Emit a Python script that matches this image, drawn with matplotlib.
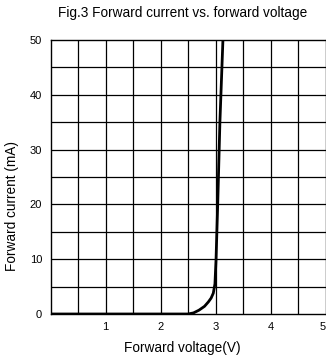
import matplotlib
matplotlib.use("Agg")
import matplotlib.pyplot as plt
import numpy as np

# forward voltage (V) vs forward current (mA)
voltage = [0.0, 2.5, 2.6, 2.7, 2.8, 2.87, 2.92, 2.96, 2.99, 3.01, 3.04, 3.08, 3.135]
current = [0.0, 0.0, 0.2, 0.7, 1.4, 2.2, 2.9, 3.8, 5.5, 10.0, 20.0, 35.0, 50.0]

x_ticks = [1, 2, 3, 4, 5]
y_ticks = [0, 10, 20, 30, 40, 50]

plt.rcParams['font.family'] = ['Liberation Sans', 'DejaVu Sans']

W, H = 326, 358
fig = plt.figure(figsize=(W / 100, H / 100), dpi=100)
ax = fig.add_axes([50.5 / W, 1 - 314 / H, 275 / W, 274 / H])

ax.set_xlim(0, 5)
ax.set_ylim(0, 50)

# grid every 0.5 V and 5 mA
for gx in np.arange(0.5, 5.0, 0.5):
    ax.axvline(gx, color='black', lw=0.9, zorder=1)
for gy in np.arange(5, 50, 5):
    ax.axhline(gy, color='black', lw=0.9, zorder=1)

ax.plot(voltage, current, color='black', lw=2.0, zorder=3, solid_capstyle='butt')

for s in ax.spines.values():
    s.set_linewidth(1.0)
    s.set_color('black')

ax.set_xticks(x_ticks)
ax.set_yticks(y_ticks)
ax.tick_params(length=0, labelsize=8, pad=6)
# last x label sits right at the figure edge
ax.get_xticklabels()[-1].set_horizontalalignment('right')

fig.text(183 / W, 1 - 13 / H, 'Fig.3 Forward current vs. forward voltage',
         ha='center', va='center', fontsize=9.8)
fig.text(182 / W, 1 - 348 / H, 'Forward voltage(V)',
         ha='center', va='center', fontsize=9.8)
fig.text(12 / W, 1 - 206 / H, 'Forward current (mA)',
         ha='center', va='center', fontsize=9.8, rotation=90)

fig.savefig('out.png', dpi=100)
